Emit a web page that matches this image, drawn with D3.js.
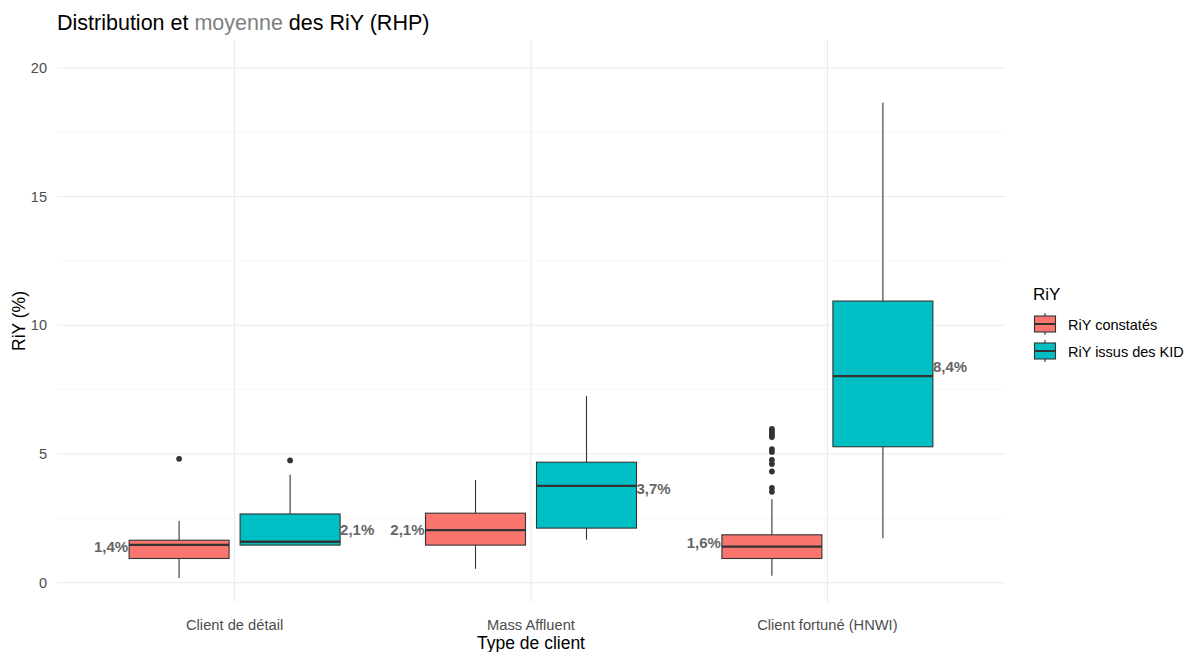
<!DOCTYPE html>
<html><head><meta charset="utf-8">
<script src="https://cdn.jsdelivr.net/npm/d3@7"></script>
<style>
body{margin:0;background:#fff;}
svg{font-family:"Liberation Sans",Arial,sans-serif;}
</style></head>
<body><svg id="c" width="1193" height="652"></svg>
<script>
const categories = ["Client de détail", "Mass Affluent", "Client fortuné (HNWI)"];
const seriesNames = ["RiY constatés", "RiY issus des KID"];
const seriesColors = ["#F8766D", "#00BFC4"];
// RiY constatés
const obsWhiskerLow = [0.18, 0.54, 0.27];
const obsQ1 = [0.94, 1.46, 0.94];
const obsMedian = [1.47, 2.04, 1.40];
const obsQ3 = [1.65, 2.70, 1.86];
const obsWhiskerHigh = [2.40, 3.99, 3.24];
const obsMean = [1.38, 2.06, 1.56];
const obsOutliers = [[4.81], [], [5.97, 5.90, 5.83, 5.75, 5.66, 5.19, 5.08, 4.77, 4.61, 4.32, 3.68, 3.53]];
// RiY issus des KID
const kidWhiskerLow = [1.46, 1.67, 1.73];
const kidQ1 = [1.46, 2.12, 5.28];
const kidMedian = [1.59, 3.76, 8.02];
const kidQ3 = [2.67, 4.68, 10.94];
const kidWhiskerHigh = [4.19, 7.25, 18.64];
const kidMean = [2.06, 3.66, 8.38];
const kidOutliers = [[4.75], [], []];
const yTicks = [0, 5, 10, 15, 20];
const yMinor = [2.5, 7.5, 12.5, 17.5];

const series = [
  {name: seriesNames[0], color: seriesColors[0], lo: obsWhiskerLow, q1: obsQ1, med: obsMedian, q3: obsQ3, hi: obsWhiskerHigh, mean: obsMean, out: obsOutliers},
  {name: seriesNames[1], color: seriesColors[1], lo: kidWhiskerLow, q1: kidQ1, med: kidMedian, q3: kidQ3, hi: kidWhiskerHigh, mean: kidMean, out: kidOutliers}
];

const svg = d3.select("#c");
const L = 57, R = 1005, T = 40, B = 602;
const xc = d3.scalePoint().domain(categories).range([L + 177.6, R - 177.6]);
const y = d3.scaleLinear().domain([-0.75, 21.08]).range([B, T]);
const dodge = d3.scaleBand().domain(seriesNames).range([-111, 111]).padding(0);
const boxW = 100;

const g = svg.append("g");
// grid
g.selectAll(".minor").data(yMinor).join("line")
  .attr("x1", L).attr("x2", R).attr("y1", d => y(d)).attr("y2", d => y(d))
  .attr("stroke", "#f2f2f2").attr("stroke-width", 0.6);
g.selectAll(".major").data(yTicks).join("line")
  .attr("x1", L).attr("x2", R).attr("y1", d => y(d)).attr("y2", d => y(d))
  .attr("stroke", "#ebebeb").attr("stroke-width", 1.1);
g.selectAll(".vmajor").data(categories).join("line")
  .attr("x1", d => xc(d)).attr("x2", d => xc(d)).attr("y1", T).attr("y2", B)
  .attr("stroke", "#ebebeb").attr("stroke-width", 1.1);

// y tick labels
g.selectAll(".ytl").data(yTicks).join("text")
  .attr("x", 47).attr("y", d => y(d)).attr("dy", "0.35em")
  .attr("text-anchor", "end").attr("font-size", 14.5).attr("fill", "#4d4d4d")
  .text(d => d);
// x tick labels
g.selectAll(".xtl").data(categories).join("text")
  .attr("x", d => xc(d)).attr("y", 625).attr("dy", "0.35em")
  .attr("text-anchor", "middle").attr("font-size", 14.7).attr("fill", "#4d4d4d")
  .text(d => d);

// boxes
series.forEach((s, si) => {
  const off = dodge(s.name) + dodge.bandwidth() / 2;
  categories.forEach((c, ci) => {
    const cx = xc(c) + off;
    const bg = g.append("g");
    bg.append("line").attr("x1", cx).attr("x2", cx).attr("y1", y(s.hi[ci])).attr("y2", y(s.q3[ci]))
      .attr("stroke", "#333").attr("stroke-width", 1.1);
    bg.append("line").attr("x1", cx).attr("x2", cx).attr("y1", y(s.q1[ci])).attr("y2", y(s.lo[ci]))
      .attr("stroke", "#333").attr("stroke-width", 1.1);
    bg.append("rect").attr("x", cx - boxW / 2).attr("width", boxW)
      .attr("y", y(s.q3[ci])).attr("height", y(s.q1[ci]) - y(s.q3[ci]))
      .attr("fill", s.color).attr("stroke", "#333").attr("stroke-width", 1.1);
    bg.append("line").attr("x1", cx - boxW / 2).attr("x2", cx + boxW / 2)
      .attr("y1", y(s.med[ci])).attr("y2", y(s.med[ci]))
      .attr("stroke", "#333").attr("stroke-width", 2.3);
    bg.selectAll("circle").data(s.out[ci]).join("circle")
      .attr("cx", cx).attr("cy", d => y(d)).attr("r", 2.9).attr("fill", "#333");
    const lbl = s.mean[ci].toFixed(1).replace(".", ",") + "%";
    bg.append("text")
      .attr("x", si === 0 ? cx - boxW / 2 - 1 : cx + boxW / 2)
      .attr("y", y(s.mean[ci])).attr("dy", "0.35em")
      .attr("text-anchor", si === 0 ? "end" : "start")
      .attr("font-size", 15).attr("font-weight", "bold").attr("fill", "#666666")
      .text(lbl);
  });
});

// axis titles
svg.append("text").attr("x", (L + R) / 2).attr("y", 643).attr("dy", "0.35em")
  .attr("text-anchor", "middle").attr("font-size", 17.5).attr("fill", "#000").text("Type de client");
svg.append("text").attr("transform", `translate(19,${(T + B) / 2}) rotate(-90)`).attr("dy", "0.35em")
  .attr("text-anchor", "middle").attr("font-size", 17.5).attr("fill", "#000").text("RiY (%)");

// title
const title = svg.append("text").attr("x", 57).attr("y", 30).attr("font-size", 21.5).attr("fill", "#000");
title.append("tspan").text("Distribution et ");
title.append("tspan").attr("fill", "#808080").text("moyenne");
title.append("tspan").text(" des RiY (RHP)");

// legend
const lg = svg.append("g");
lg.append("text").attr("x", 1033).attr("y", 294).attr("dy", "0.35em").attr("font-size", 17).attr("fill", "#000").text("RiY");
const ly = d3.scalePoint().domain(seriesNames).range([324, 351]);
seriesNames.forEach((n, i) => {
  const cy = ly(n);
  const kx = 1045;
  lg.append("line").attr("x1", kx).attr("x2", kx).attr("y1", cy - 11).attr("y2", cy + 11).attr("stroke", "#333").attr("stroke-width", 1.1);
  lg.append("rect").attr("x", kx - 10.5).attr("width", 21).attr("y", cy - 8).attr("height", 16)
    .attr("fill", seriesColors[i]).attr("stroke", "#333").attr("stroke-width", 1.1);
  lg.append("line").attr("x1", kx - 10.5).attr("x2", kx + 10.5).attr("y1", cy).attr("y2", cy).attr("stroke", "#333").attr("stroke-width", 2);
  lg.append("text").attr("x", 1068).attr("y", cy + 1).attr("dy", "0.35em").attr("font-size", 14.5).attr("fill", "#000").text(n);
});
</script></body></html>
